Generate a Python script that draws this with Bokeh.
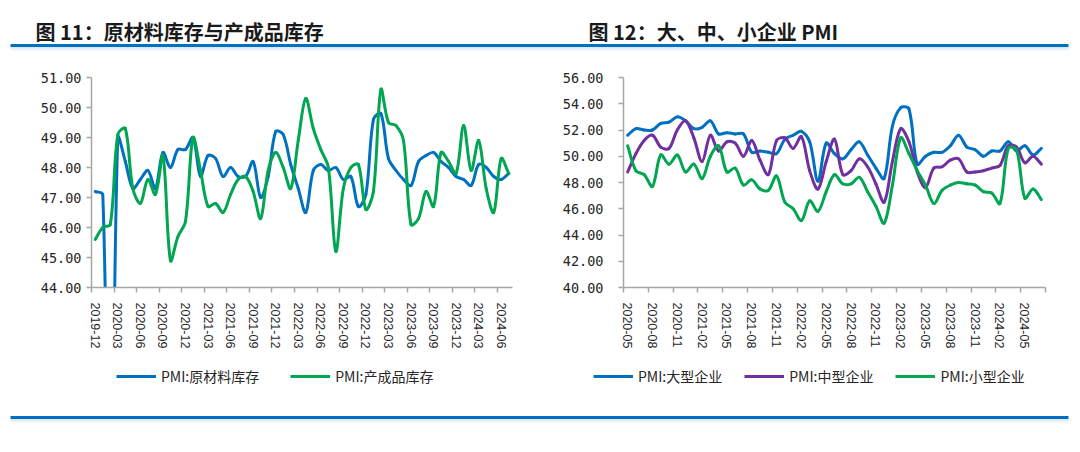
import math
from bokeh.plotting import figure
from bokeh.layouts import column, row
from bokeh.models import Range1d, FixedTicker, PrintfTickFormatter, Legend, LegendItem
from bokeh.core.properties import value
from bokeh.embed import file_html
from bokeh.resources import INLINE

# ---------------- data ----------------
title_left = "图 11：原材料库存与产成品库存"
title_right = "图 12：大、中、小企业 PMI"

left_months = [
    "2019-12",
    "2020-01", "2020-02", "2020-03", "2020-04", "2020-05", "2020-06",
    "2020-07", "2020-08", "2020-09", "2020-10", "2020-11", "2020-12",
    "2021-01", "2021-02", "2021-03", "2021-04", "2021-05", "2021-06",
    "2021-07", "2021-08", "2021-09", "2021-10", "2021-11", "2021-12",
    "2022-01", "2022-02", "2022-03", "2022-04", "2022-05", "2022-06",
    "2022-07", "2022-08", "2022-09", "2022-10", "2022-11", "2022-12",
    "2023-01", "2023-02", "2023-03", "2023-04", "2023-05", "2023-06",
    "2023-07", "2023-08", "2023-09", "2023-10", "2023-11", "2023-12",
    "2024-01", "2024-02", "2024-03", "2024-04", "2024-05", "2024-06",
    "2024-07",
]
raw_material_inv = [
    47.2,
    47.1, 33.9, 49.0, 48.2, 47.3, 47.6, 47.9, 47.3, 48.5, 48.0, 48.6, 48.6,
    49.0, 47.7, 48.4, 48.3, 47.7, 48.0, 47.7, 47.7, 48.2, 47.0, 47.7, 49.2,
    49.1, 48.1, 47.3, 46.5, 47.9, 48.1, 47.9, 48.0, 47.6, 47.7, 46.7, 47.1,
    49.6, 49.8, 48.3, 47.9, 47.6, 47.4, 48.2, 48.4, 48.5, 48.2, 48.0, 47.7,
    47.6, 47.4, 48.1, 48.0, 47.7, 47.6, 47.8,
]
finished_goods_inv = [
    45.6,
    46.0, 46.1, 49.1, 49.3, 47.3, 46.8, 47.6, 47.1, 48.4, 44.9, 45.7, 46.2,
    49.0, 47.9, 46.7, 46.8, 46.5, 47.1, 47.6, 47.7, 47.2, 46.3, 47.9, 48.5,
    48.0, 47.3, 48.9, 50.3, 49.3, 48.6, 48.0, 45.2, 47.3, 48.0, 48.1, 46.6,
    47.2, 50.6, 49.5, 49.4, 48.9, 46.1, 46.3, 47.2, 46.7, 48.5, 48.2, 47.8,
    49.4, 47.9, 48.9, 47.3, 46.5, 48.3, 47.8,
]

right_months = [
    "2020-05", "2020-06", "2020-07", "2020-08", "2020-09", "2020-10",
    "2020-11", "2020-12",
    "2021-01", "2021-02", "2021-03", "2021-04", "2021-05", "2021-06",
    "2021-07", "2021-08", "2021-09", "2021-10", "2021-11", "2021-12",
    "2022-01", "2022-02", "2022-03", "2022-04", "2022-05", "2022-06",
    "2022-07", "2022-08", "2022-09", "2022-10", "2022-11", "2022-12",
    "2023-01", "2023-02", "2023-03", "2023-04", "2023-05", "2023-06",
    "2023-07", "2023-08", "2023-09", "2023-10", "2023-11", "2023-12",
    "2024-01", "2024-02", "2024-03", "2024-04", "2024-05", "2024-06",
    "2024-07",
]
pmi_large = [
    51.6, 52.1, 52.0, 52.0, 52.5, 52.6, 53.0, 52.7,
    52.1, 52.2, 52.7, 51.7, 51.8, 51.7, 51.7, 50.3, 50.4, 50.3, 50.2, 51.3,
    51.6, 51.9, 51.1, 48.1, 51.0, 50.2, 49.8, 50.5, 51.1, 50.1, 49.1, 48.3,
    52.3, 53.7, 53.6, 49.4, 50.0, 50.3, 50.3, 50.8, 51.6, 50.7, 50.5, 50.0,
    50.4, 50.4, 51.1, 50.4, 50.8, 50.1, 50.6,
]
pmi_medium = [
    48.8, 50.2, 51.2, 51.6, 50.7, 50.6, 52.0, 52.7,
    51.4, 49.6, 51.6, 50.4, 51.1, 51.0, 50.0, 51.2, 49.7, 48.6, 51.2, 51.4,
    50.6, 51.5, 48.9, 47.5, 49.6, 51.3, 48.6, 48.9, 49.8, 49.2, 47.9, 46.5,
    49.6, 52.1, 51.1, 48.8, 47.6, 49.1, 49.2, 49.7, 49.8, 48.8, 48.8, 48.9,
    49.1, 49.3, 50.8, 50.7, 49.5, 50.0, 49.4,
]
pmi_small = [
    50.8, 48.9, 48.6, 47.7, 50.1, 49.4, 50.1, 48.8,
    49.4, 48.3, 50.0, 50.8, 48.8, 49.1, 47.8, 48.2, 47.5, 47.4, 48.5, 46.5,
    46.0, 45.1, 46.6, 45.8, 47.3, 48.6, 47.9, 47.9, 48.4, 47.3, 46.2, 44.9,
    47.8, 51.4, 50.2, 48.9, 47.8, 46.4, 47.4, 47.8, 48.0, 47.9, 47.8, 47.3,
    47.2, 46.4, 50.6, 50.5, 46.8, 47.5, 46.7,
]

left_names = ["PMI:原材料库存", "PMI:产成品库存"]
right_names = ["PMI:大型企业", "PMI:中型企业", "PMI:小型企业"]

# ---------------- style ----------------
BLUE = "#0070C0"
GREEN = "#00A651"
PURPLE = "#7030A0"
AXIS = "#A6A6A6"
TXT = "#262626"
CJK = "Noto Sans CJK SC"
W = 1080
H = 452
TOP_H = 52
CHART_H = 304
FRAME_TOP = 25
FRAME_H = 210
LEG_FONT = "14px"


def smooth_source(ys, px_x, px_y, t=1.0 / 3.0):
    """Excel-like smoothed line: bezier segments through every data point.
    Control points are computed in screen space (px per unit given)."""
    n = len(ys)
    P = [(i * px_x, v * px_y) for i, v in enumerate(ys)]
    cin, cout = [None] * n, [None] * n
    for i in range(n):
        if i == 0:
            cout[i] = (P[0][0] + (P[1][0] - P[0][0]) * t, P[0][1] + (P[1][1] - P[0][1]) * t)
            continue
        if i == n - 1:
            cin[i] = (P[i][0] - (P[i][0] - P[i - 1][0]) * t, P[i][1] - (P[i][1] - P[i - 1][1]) * t)
            continue
        tx = P[i + 1][0] - P[i - 1][0]
        ty = P[i + 1][1] - P[i - 1][1]
        d0 = math.hypot(P[i][0] - P[i - 1][0], P[i][1] - P[i - 1][1])
        d1 = math.hypot(P[i + 1][0] - P[i][0], P[i + 1][1] - P[i][1])
        fa = t * d0 / (d0 + d1)
        fb = t * d1 / (d0 + d1)
        cin[i] = (P[i][0] - fa * tx, P[i][1] - fa * ty)
        cout[i] = (P[i][0] + fb * tx, P[i][1] + fb * ty)
    d = {k: [] for k in ("x0", "y0", "x1", "y1", "cx0", "cy0", "cx1", "cy1")}
    for i in range(n - 1):
        d["x0"].append(i); d["y0"].append(ys[i])
        d["x1"].append(i + 1); d["y1"].append(ys[i + 1])
        d["cx0"].append(cout[i][0] / px_x); d["cy0"].append(cout[i][1] / px_y)
        d["cx1"].append(cin[i + 1][0] / px_x); d["cy1"].append(cin[i + 1][1] / px_y)
    return d


def make_chart(width, bl, br, months, series, colors, ymin, ymax, ystep,
               y_standoff, end_tick):
    n = len(months)
    frame_w = width - bl - br
    p = figure(width=width, height=CHART_H,
               x_range=Range1d(-0.5, n - 0.5), y_range=Range1d(ymin, ymax),
               output_backend="svg", toolbar_location=None, tools="",
               min_border_left=bl, min_border_right=br,
               min_border_top=FRAME_TOP, min_border_bottom=CHART_H - FRAME_TOP - FRAME_H)
    p.outline_line_color = None
    p.grid.visible = False
    p.background_fill_color = "white"
    p.border_fill_color = "white"

    # y axis
    yt = []
    v = ymin
    while v <= ymax + 1e-9:
        yt.append(v)
        v += ystep
    p.yaxis.ticker = FixedTicker(ticks=yt)
    p.yaxis.formatter = PrintfTickFormatter(format="%.2f")
    p.yaxis.axis_line_color = AXIS
    p.yaxis.axis_line_width = 1.5
    p.yaxis.major_tick_line_color = AXIS
    p.yaxis.major_tick_line_width = 1.5
    p.yaxis.major_tick_out = 5
    p.yaxis.major_tick_in = 0
    p.yaxis.minor_tick_line_color = None
    p.yaxis.major_label_standoff = y_standoff
    p.yaxis.major_label_text_font = "DejaVu Sans Mono"
    p.yaxis.major_label_text_font_size = "13.5px"
    p.yaxis.major_label_text_color = TXT

    # x axis: labels at category centres, tick marks at category boundaries
    xt = list(range(0, n, 3))
    minor = [i - 0.5 for i in xt]
    if end_tick:
        minor.append(n - 0.5)
    p.xaxis.ticker = FixedTicker(ticks=xt, minor_ticks=minor)
    p.xaxis.major_label_overrides = {i: months[i] for i in xt}
    p.xaxis.major_label_orientation = "vertical"
    p.xaxis.axis_line_color = AXIS
    p.xaxis.axis_line_width = 1.5
    p.xaxis.major_tick_line_color = None
    p.xaxis.major_tick_out = 0
    p.xaxis.major_tick_in = 0
    p.xaxis.minor_tick_line_color = AXIS
    p.xaxis.minor_tick_line_width = 1.5
    p.xaxis.minor_tick_out = 5
    p.xaxis.minor_tick_in = 0
    p.xaxis.major_label_standoff = 10
    p.xaxis.major_label_text_font = "Liberation Sans"
    p.xaxis.major_label_text_font_size = "12.5px"
    p.xaxis.major_label_text_color = TXT

    px_x = frame_w / float(n)
    px_y = FRAME_H / float(ymax - ymin)
    for ys, c in zip(series, colors):
        p.bezier(x0="x0", y0="y0", x1="x1", y1="y1", cx0="cx0", cy0="cy0",
                 cx1="cx1", cy1="cy1", source=smooth_source(ys, px_x, px_y),
                 line_color=c, line_width=3, line_cap="round")
    return p


left = make_chart(548, 91, 36, left_months, [raw_material_inv, finished_goods_inv],
                  [BLUE, GREEN], 44, 51, 1, 5, False)
right = make_chart(532, 75, 35, right_months, [pmi_large, pmi_medium, pmi_small],
                   [BLUE, PURPLE, GREEN], 40, 56, 2, 15, True)


def band(height):
    f = figure(width=W, height=height, x_range=Range1d(0, W), y_range=Range1d(height, 0),
               output_backend="svg", toolbar_location=None, tools="",
               x_axis_type=None, y_axis_type=None, min_border=0)
    f.outline_line_color = None
    f.grid.visible = False
    f.background_fill_color = "white"
    f.border_fill_color = "white"
    return f


def rule(f, y):
    f.line(x=[10, 1068], y=[y + 2.5, y + 2.5], line_color="#dbe7f3", line_width=2)
    f.line(x=[10, 1068], y=[y + 4, y + 4], line_color="#eef4fa", line_width=2)
    f.line(x=[10, 1068], y=[y, y], line_color=BLUE, line_width=3)


# header: titles + rule
header = band(TOP_H)
header.text(x=[35, 588], y=[31, 31], text=[title_left, title_right],
            text_font=value(CJK), text_font_style="bold", text_font_size="20px",
            text_baseline="alphabetic", text_color="#1a1a1a")
rule(header, 45)

# footer: legends + rule
FOOT_H = H - TOP_H - CHART_H
footer = band(FOOT_H)


def add_legend(f, names, colors, x_left, spacing):
    items = []
    for name, c in zip(names, colors):
        # swatch-only renderer, kept outside the visible range
        r = f.line(x=[-50, -40], y=[-50, -50], line_color=c, line_width=3)
        items.append(LegendItem(label=name, renderers=[r]))
    lg = Legend(items=items, orientation="horizontal",
                location=(x_left, FOOT_H - 2 - 28),
                border_line_color=None, background_fill_alpha=0,
                glyph_width=40, glyph_height=14, label_height=20, label_standoff=5,
                spacing=spacing, padding=4, margin=0,
                label_text_font=CJK, label_text_font_size=LEG_FONT,
                label_text_color=TXT)
    f.add_layout(lg)


add_legend(footer, left_names, [BLUE, GREEN], 116, 31)
add_legend(footer, right_names, [BLUE, PURPLE, GREEN], 593, 22)
rule(footer, 417 - TOP_H - CHART_H)

page = column(header, row(left, right), footer)
open("out.html", "w").write(file_html(page, INLINE))
